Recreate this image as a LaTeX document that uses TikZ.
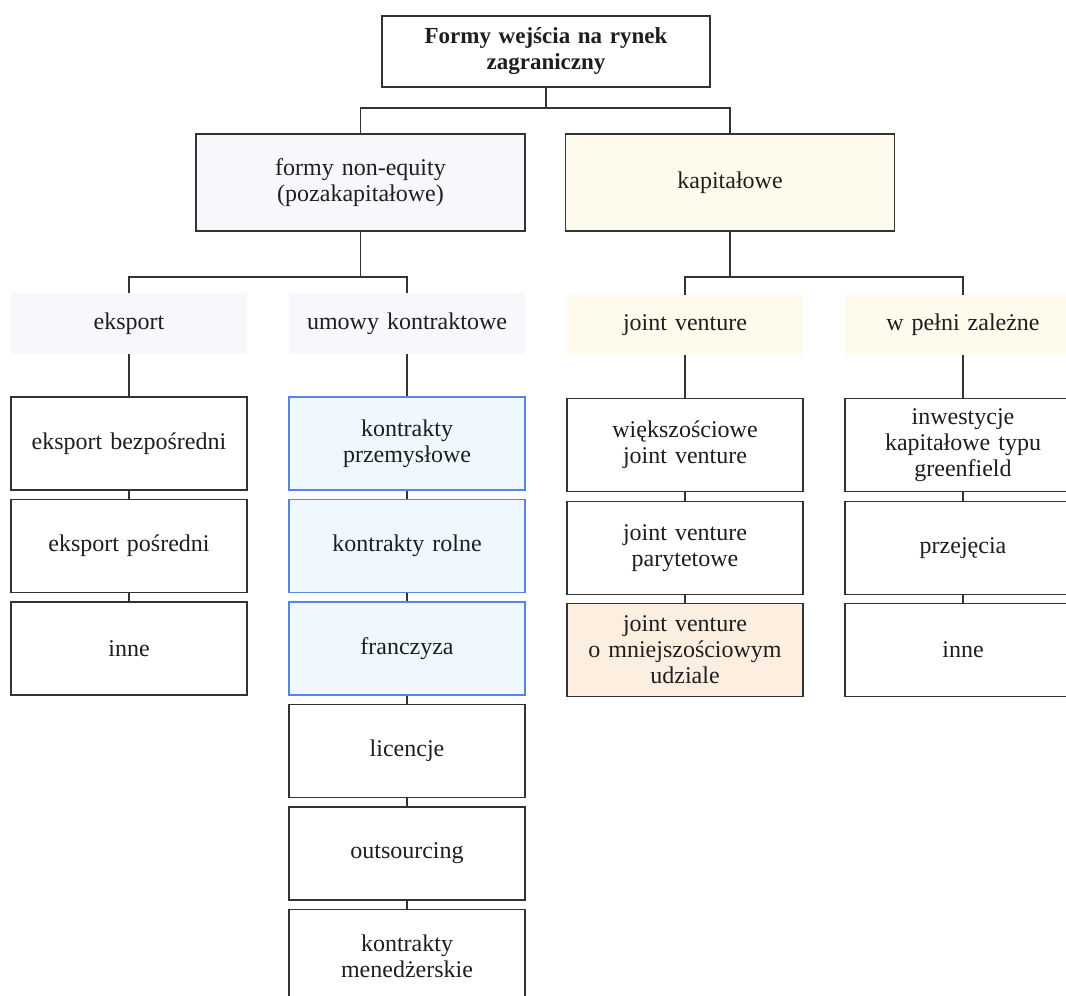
\documentclass[tikz,border=0pt]{standalone}
\usepackage{fontspec}
\setmainfont{Liberation Serif}
\definecolor{lineC}{HTML}{333333}
\definecolor{txtC}{HTML}{1E1E1E}
\definecolor{lavC}{HTML}{F8F7FC}
\definecolor{creamC}{HTML}{FEFBEC}
\definecolor{blueF}{HTML}{EEF8FE}
\definecolor{blueB}{HTML}{5585E8}
\definecolor{orangeF}{HTML}{FDEFDF}
\tikzset{
  base/.style={align=center, text=txtC, inner sep=2pt, font=\fontsize{24}{26}\selectfont},
  plainbox/.style={base, draw=lineC, line width=1.2pt, fill=white, minimum width=236pt, minimum height=93pt, text width=226pt},
  bluebox/.style={plainbox, draw=blueB, fill=blueF},
  orangebox/.style={plainbox, fill=orangeF},
  headlav/.style={base, fill=lavC, minimum width=236pt, minimum height=61pt, text width=230pt},
  headcream/.style={base, fill=creamC, minimum width=236pt, minimum height=60pt, text width=230pt},
  bigbox/.style={base, draw=lineC, line width=1.2pt, minimum width=329pt, minimum height=97pt, text width=300pt},
  conn/.style={draw=lineC, line width=1.5pt}
}
\begin{document}
\begin{tikzpicture}[x=1pt,y=1pt]
\useasboundingbox (0,0) rectangle (1066,-996);
\clip (0,0) rectangle (1066,-996);
% top
\node[base, draw=lineC, line width=1.2pt, minimum width=328pt, minimum height=71pt, text width=318pt, font=\fontsize{23}{26}\selectfont\bfseries] (top) at (546,-51.5) {Formy wejścia na rynek\\zagraniczny};
% level 2
\node[bigbox, fill=lavC] (formy) at (360.5,-182.5) {formy non-equity\\(pozakapitałowe)};
\node[bigbox, fill=creamC] (kap) at (730,-182.5) {kapitałowe};
% level 3 headers
\node[headlav] (eks) at (129,-323.5) {eksport};
\node[headlav] (umo) at (407,-323.5) {umowy kontraktowe};
\node[headcream] (jv) at (685,-325) {joint venture};
\node[headcream] (wp) at (963,-325) {w pełni zależne};
% eksport column
\node[plainbox] (e1) at (129,-443.5) {eksport bezpośredni};
\node[plainbox] (e2) at (129,-546) {eksport pośredni};
\node[plainbox] (e3) at (129,-648.5) {inne};
% umowy column
\node[bluebox] (u1) at (407,-443.5) {kontrakty\\przemysłowe};
\node[bluebox] (u2) at (407,-546) {kontrakty rolne};
\node[bluebox] (u3) at (407,-648.5) {franczyza};
\node[plainbox] (u4) at (407,-751) {licencje};
\node[plainbox] (u5) at (407,-853.5) {outsourcing};
\node[plainbox] (u6) at (407,-956) {kontrakty\\menedżerskie};
% joint venture column
\node[plainbox] (j1) at (685,-445) {większościowe\\joint venture};
\node[plainbox] (j2) at (685,-548) {joint venture\\parytetowe};
\node[orangebox] (j3) at (685,-650) {joint venture\\o mniejszościowym\\udziale};
% w pelni column
\node[plainbox] (w1) at (963,-445) {inwestycje\\kapitałowe typu\\greenfield};
\node[plainbox] (w2) at (963,-548) {przejęcia};
\node[plainbox] (w3) at (963,-650) {inne};
% connectors
\coordinate (k0) at (546,-108);
\coordinate (k1) at (360.5,-277);
\coordinate (k2) at (730,-277);
\draw[conn] (top.south) -- (k0);
\draw[conn] (k0) -| (formy.north);
\draw[conn] (k0) -| (kap.north);
\draw[conn] (formy.south) -- (k1);
\draw[conn] (k1) -| (eks.north);
\draw[conn] (k1) -| (umo.north);
\draw[conn] (kap.south) -- (k2);
\draw[conn] (k2) -| (jv.north);
\draw[conn] (k2) -| (wp.north);
\draw[conn] (eks.south) -- (e1.north);
\draw[conn] (e1.south) -- (e2.north);
\draw[conn] (e2.south) -- (e3.north);
\draw[conn] (umo.south) -- (u1.north);
\draw[conn] (u1.south) -- (u2.north);
\draw[conn] (u2.south) -- (u3.north);
\draw[conn] (u3.south) -- (u4.north);
\draw[conn] (u4.south) -- (u5.north);
\draw[conn] (u5.south) -- (u6.north);
\draw[conn] (jv.south) -- (j1.north);
\draw[conn] (j1.south) -- (j2.north);
\draw[conn] (j2.south) -- (j3.north);
\draw[conn] (wp.south) -- (w1.north);
\draw[conn] (w1.south) -- (w2.north);
\draw[conn] (w2.south) -- (w3.north);
\end{tikzpicture}
\end{document}
